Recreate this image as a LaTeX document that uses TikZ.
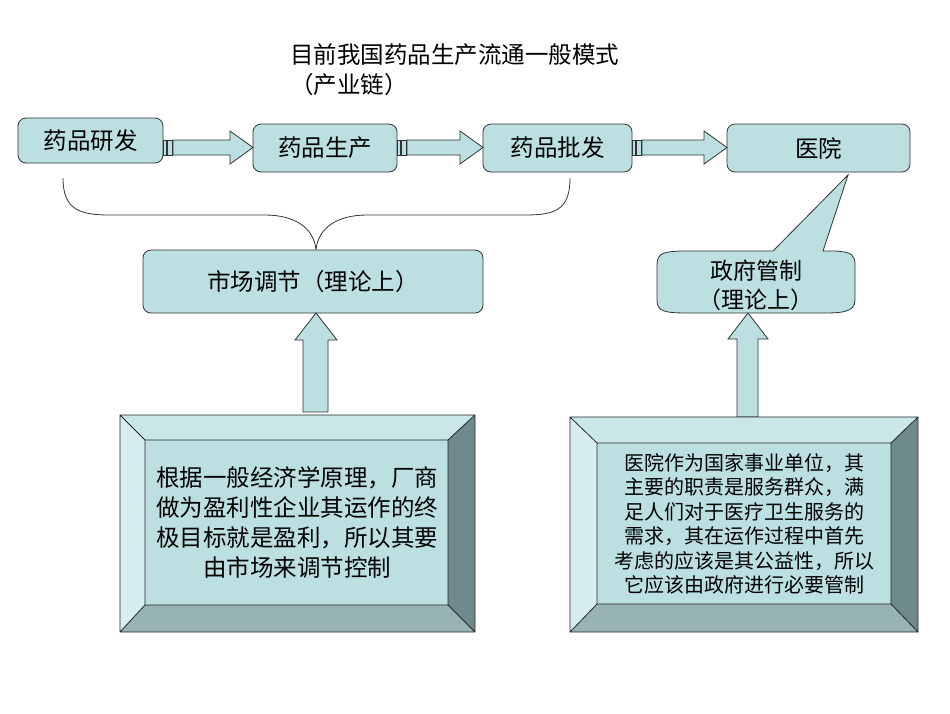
\documentclass[tikz,border=0pt]{standalone}
\usepackage{fontspec}
\setmainfont{Noto Sans CJK SC}
\begin{document}
\begin{tikzpicture}[x=1pt,y=-1pt,
 fillc/.style={fill=boxc,draw=black!80,line width=0.8pt},
 rbox/.style={fillc,rounded corners=8pt},
 lab/.style={font=\fontsize{23.5}{28}\selectfont},
]
\definecolor{boxc}{HTML}{BCE0E2}
\definecolor{bt}{HTML}{C9E6E8}
\definecolor{bl}{HTML}{D6EEF0}
\definecolor{br}{HTML}{6F8A8B}
\definecolor{bb}{HTML}{97B3B4}
\useasboundingbox (0,0) rectangle (950,713);
\node[lab,anchor=west,inner sep=0pt] (title) at (290,55) {目前我国药品生产流通一般模式};
\node[lab,anchor=west,inner sep=0pt] (sub) at (290,85) {（产业链）};
% top boxes
\draw[rbox] (18,118) rectangle (163,163); \node[lab] (b1) at (90.5,140.5) {药品研发};
\draw[rbox] (253,124) rectangle (397,172); \node[lab] (b2) at (325,148) {药品生产};
\draw[rbox] (483,124) rectangle (632,172); \node[lab] (b3) at (557.5,148) {药品批发};
\draw[rbox] (727,124) rectangle (910,172); \node[lab] (b4) at (818.5,148) {医院};
% striped arrows
\foreach \a/\b in {163/253,397/483,632/727}{
 \pgfmathsetmacro{\hx}{\b-23}
 \draw[fillc] (\a,140) rectangle ++(3,15);
 \draw[fillc] (\a+4,140) rectangle ++(5,15);
 \draw[fillc] (\a+10,140) -- (\hx,140) -- (\hx,131) -- (\b,147.5) -- (\hx,164) -- (\hx,155) -- (\a+10,155) -- cycle;
}
% brace
\draw[black!80,line width=0.8pt] (63,178) .. controls (63,210) and (80,215) .. (110,215) -- (265,215)
 .. controls (295,215) and (314,228) .. (316,250) .. controls (318,228) and (337,215) .. (367,215)
 -- (525,215) .. controls (555,215) and (570,210) .. (570,178);
% market box
\draw[rbox] (143,250) rectangle (483,313);
\node[lab] (m) at (313,281.5) {市场调节（理论上）};
% gov callout
\draw[fillc] (657,265) .. controls (657,252) and (665,252) .. (680,251) -- (773,251) -- (848,175) -- (823,251)
 -- (835,251) .. controls (852,252) and (855,255) .. (855,265) -- (855,300)
 .. controls (855,313) and (840,313) .. (820,313) -- (690,313)
 .. controls (665,313) and (657,312) .. (657,300) -- cycle;
\node[align=center,font=\fontsize{23}{29}\selectfont] (g) at (756,285) {政府管制\\（理论上）};
% up arrows
\draw[fillc] (303,412) -- (303,340) -- (295,340) -- (316,313) -- (337,340) -- (328,340) -- (328,412) -- cycle;
\draw[fillc] (737,417) -- (737,339) -- (728,339) -- (748,313) -- (768,339) -- (758,339) -- (758,417) -- cycle;
% bevel boxes
\newcommand{\bevel}[8]{%
 \fill[bt] (#1,#2) -- (#3,#2) -- (#7,#6) -- (#5,#6) -- cycle;
 \fill[bl] (#1,#2) -- (#5,#6) -- (#5,#8) -- (#1,#4) -- cycle;
 \fill[br] (#3,#2) -- (#7,#6) -- (#7,#8) -- (#3,#4) -- cycle;
 \fill[bb] (#1,#4) -- (#5,#8) -- (#7,#8) -- (#3,#4) -- cycle;
 \fill[boxc] (#5,#6) rectangle (#7,#8);
 \draw[black!85,line width=0.8pt] (#1,#2) rectangle (#3,#4) (#5,#6) rectangle (#7,#8)
  (#1,#2) -- (#5,#6) (#3,#2) -- (#7,#6) (#1,#4) -- (#5,#8) (#3,#4) -- (#7,#8);}
\bevel{120}{415}{475}{632}{145}{440}{448}{605}
\bevel{570}{417}{918}{632}{597}{443}{891}{604}
\node[align=center,font=\fontsize{23.5}{30}\selectfont] (t1) at (297,522) {根据一般经济学原理，厂商\\做为盈利性企业其运作的终\\极目标就是盈利，所以其要\\由市场来调节控制};
\node[align=center,font=\fontsize{20}{24.5}\selectfont] (t2) at (744,524) {医院作为国家事业单位，其\\主要的职责是服务群众，满\\足人们对于医疗卫生服务的\\需求，其在运作过程中首先\\考虑的应该是其公益性，所以\\它应该由政府进行必要管制};
\end{tikzpicture}
\end{document}
